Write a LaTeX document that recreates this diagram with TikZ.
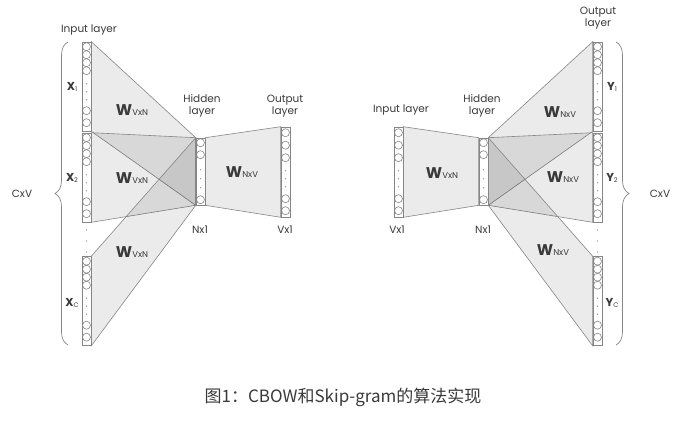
\documentclass[tikz,border=0pt]{standalone}
\usepackage{fontspec}
\setmainfont{Poppins}
\newfontfamily\cjk{Noto Sans CJK SC}
\usetikzlibrary{calc,backgrounds,decorations.pathreplacing}

\definecolor{edge}{HTML}{868686}
\definecolor{ink}{HTML}{3A3A3A}

\tikzset{
  col/.style={draw=edge,fill=white,minimum width=9pt,inner sep=0pt,line width=0.6pt},
  unit/.style={draw=edge,line width=0.6pt},
  wmap/.style={fill=black,fill opacity=0.08,draw=edge,line width=0.6pt},
  lbl/.style={text=ink,font=\fontsize{10.5}{12.5}\selectfont,align=center,inner sep=0pt},
  cbrace/.style={draw=edge,line width=0.7pt,decorate,decoration={brace,amplitude=13pt}}
}

% circles and dots inside a column
\newcommand{\units}[3]{%
  \foreach \d in {#2} \draw[unit] ($(#1.north)+(0,\d)$) circle (4pt);
  \foreach \d in {#3} \fill[edge] ($(#1.north)+(0,\d)$) circle (0.6pt);
}
\newcommand{\wlab}[1]{{\fontsize{15.5}{15}\selectfont\bfseries W}{\fontsize{8.5}{8}\selectfont #1}}
\newcommand{\vlab}[2]{{\fontsize{11.5}{11}\selectfont\bfseries #1}\raisebox{-1pt}{\fontsize{6.5}{6}\selectfont #2}}

\begin{document}
\begin{tikzpicture}[x=1pt,y=-1pt]
\useasboundingbox (0,0) rectangle (685,425);

% CBOW
\node[col,minimum height=89pt] (x1) at (86.5,86.5) {};
\node[col,minimum height=89pt] (x2) at (86.5,177.5) {};
\node[col,minimum height=89pt] (xc) at (86.5,301) {};
\node[col,minimum height=67pt] (hl) at (200.5,171.5) {};
\node[col,minimum height=90pt] (ol) at (285.5,172) {};

% Skip-gram
\node[col,minimum height=90pt] (ir) at (398.5,172) {};
\node[col,minimum height=67pt] (hr) at (483.5,171.5) {};
\node[col,minimum height=89pt] (y1) at (597.5,86.5) {};
\node[col,minimum height=89pt] (y2) at (597.5,177.5) {};
\node[col,minimum height=89pt] (yc) at (597.5,301) {};

\begin{pgfonlayer}{background}
\fill[white] (0,0) rectangle (685,425);
\draw[wmap] (x1.north east) -- (hl.north west) -- (hl.south west) -- (x1.south east) -- cycle;
\draw[wmap] (x2.north east) -- (hl.north west) -- (hl.south west) -- (x2.south east) -- cycle;
\draw[wmap] (xc.north east) -- (hl.north west) -- (hl.south west) -- (xc.south east) -- cycle;
\draw[wmap] (hl.north east) -- (ol.north west) -- (ol.south west) -- (hl.south east) -- cycle;
\draw[wmap] (ir.north east) -- (hr.north west) -- (hr.south west) -- (ir.south east) -- cycle;
\draw[wmap] (hr.north east) -- (y1.north west) -- (y1.south west) -- (hr.south east) -- cycle;
\draw[wmap] (hr.north east) -- (y2.north west) -- (y2.south west) -- (hr.south east) -- cycle;
\draw[wmap] (hr.north east) -- (yc.north west) -- (yc.south west) -- (hr.south east) -- cycle;
\end{pgfonlayer}

\units{x1}{5,13,21,29,69,81}{42,50,58}
\units{x2}{5,13,21,29,69,81}{42,50,58}
\units{xc}{5,13,21,29,69,81}{42,50,58}
\units{hl}{5,17,62}{32,41,50}
\units{ol}{6,18.5,31,72,84}{44,52,60}
\units{ir}{6,18.5,31,72,84}{44,52,60}
\units{hr}{5,17,62}{32,41,50}
\units{y1}{5,13,21,29,69,81}{42,50,58}
\units{y2}{5,13,21,29,69,81}{42,50,58}
\units{yc}{5,13,21,29,69,81}{42,50,58}

\foreach \y in {230,241,252} {
  \fill[edge] (86.5,\y) circle (0.7pt);
  \fill[edge] (597.5,\y) circle (0.7pt);
}

\node[lbl] (inl) at (89,30) {Input layer};
\node[lbl] (hdl) at (202,106) {Hidden\\layer};
\node[lbl] (oul) at (285,106) {Output\\layer};
\node[lbl] (nl) at (200,230) {Nx1};
\node[lbl] (vl) at (285,230) {Vx1};
\node[lbl] (w1) at (132,110) {\wlab{VxN}};
\node[lbl] (w2) at (132,178) {\wlab{VxN}};
\node[lbl] (w3) at (132,252) {\wlab{VxN}};
\node[lbl] (w4) at (242,172) {\wlab{NxV}};
\node[lbl] (lx1) at (72,87) {\vlab{X}{1}};
\node[lbl] (lx2) at (72,178) {\vlab{X}{2}};
\node[lbl] (lxc) at (72,303) {\vlab{X}{C}};

\coordinate (bl1) at (68,345);
\coordinate (bl2) at (68,42);
\draw[cbrace] (bl1) -- (bl2);
\node[lbl] (cl) at (22,194) {CxV};

\node[lbl] (inr) at (401,110) {Input layer};
\node[lbl] (hdr) at (482,106) {Hidden\\layer};
\node[lbl] (our) at (598,18) {Output\\layer};
\node[lbl] (vr) at (397,230) {Vx1};
\node[lbl] (nr) at (483,230) {Nx1};
\node[lbl] (w5) at (442,173) {\wlab{VxN}};
\node[lbl] (w6) at (560,112) {\wlab{NxV}};
\node[lbl] (w7) at (563,177) {\wlab{NxV}};
\node[lbl] (w8) at (553,250) {\wlab{NxV}};
\node[lbl] (ly1) at (612,87) {\vlab{Y}{1}};
\node[lbl] (ly2) at (612,178) {\vlab{Y}{2}};
\node[lbl] (lyc) at (612,303) {\vlab{Y}{C}};

\coordinate (br1) at (616,42);
\coordinate (br2) at (616,345);
\draw[cbrace] (br1) -- (br2);
\node[lbl] (cr) at (660,194) {CxV};

\node[text=ink,font=\cjk\fontsize{17}{17}\selectfont] (cap) at (343,397) {图1：CBOW和Skip-gram的算法实现};
\end{tikzpicture}
\end{document}
